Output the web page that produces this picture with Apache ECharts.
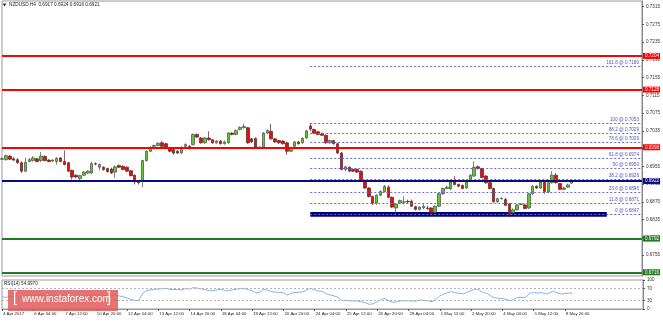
<!DOCTYPE html>
<html><head><meta charset="utf-8">
<script src="https://cdn.jsdelivr.net/npm/echarts@6/dist/echarts.min.js"></script>
<style>html,body{margin:0;padding:0;background:#fff;overflow:hidden}#c{width:663px;height:322px}</style>
</head><body><div id="c"></div>
<script>
// ---------- data ----------
const symbolTitle = 'NZDUSD,H4  0.6917 0.6924 0.6916 0.6921';
const rsiTitle = 'RSI(14) 54.9970';
const watermarkText = 'www.instaforex.com';
const tickLabels = ['4 Apr 2017','6 Apr 04:00','7 Apr 12:00','10 Apr 20:00','12 Apr 04:00','13 Apr 12:00','14 Apr 20:00','18 Apr 04:00','19 Apr 12:00','20 Apr 20:00','24 Apr 04:00','25 Apr 12:00','26 Apr 20:00','28 Apr 04:00','1 May 12:00','2 May 20:00','4 May 04:00','5 May 12:00','8 May 20:00'];
const barsPerLabel = 8;
const slotCount = 165;
// [open, high, low, close]
const ohlc = [
[0.6971,0.6975,0.6969,0.6972],[0.6970,0.6982,0.6968,0.6979],[0.6978,0.6980,0.6969,0.6971],[0.6972,0.6976,0.6967,0.6969],
[0.6970,0.6974,0.6961,0.6963],[0.6963,0.6966,0.6940,0.6944],[0.6944,0.6974,0.6942,0.6964],[0.6966,0.6974,0.6964,0.6970],
[0.6968,0.6978,0.6966,0.6974],[0.6972,0.6974,0.6964,0.6966],[0.6968,0.6987,0.6965,0.6978],[0.6977,0.6980,0.6966,0.6968],
[0.6969,0.6971,0.6964,0.6966],[0.6967,0.6971,0.6965,0.6969],[0.6966,0.6976,0.6959,0.6973],[0.6974,0.6976,0.6964,0.6966],
[0.6966,0.6991,0.6957,0.6959],[0.6963,0.6965,0.6942,0.6944],[0.6946,0.6948,0.6925,0.6931],[0.6935,0.6937,0.6929,0.6931],
[0.6927,0.6936,0.6919,0.6934],[0.6935,0.6944,0.6933,0.6942],[0.6940,0.6946,0.6938,0.6944],[0.6940,0.6965,0.6938,0.6961],
[0.6961,0.6964,0.6957,0.6960],[0.6953,0.6961,0.6946,0.6959],[0.6953,0.6955,0.6945,0.6948],[0.6950,0.6952,0.6941,0.6943],
[0.6949,0.6952,0.6938,0.6940],[0.6942,0.6957,0.6929,0.6954],[0.6957,0.6959,0.6951,0.6953],[0.6955,0.6957,0.6946,0.6948],
[0.6953,0.6955,0.6942,0.6944],[0.6945,0.6947,0.6932,0.6934],[0.6935,0.6937,0.6914,0.6920],[0.6921,0.6923,0.6914,0.6918],
[0.6921,0.6970,0.6908,0.6968],[0.6968,0.6991,0.6966,0.6989],[0.6989,0.7000,0.6987,0.6998],[0.7000,0.7004,0.6998,0.7002],
[0.7002,0.7009,0.7000,0.7007],[0.7008,0.7012,0.6998,0.7000],[0.7006,0.7008,0.6996,0.6998],[0.6997,0.6999,0.6987,0.6989],
[0.6993,0.6995,0.6981,0.6985],[0.6989,0.6991,0.6983,0.6985],[0.6985,0.7000,0.6983,0.6998],[0.7000,0.7007,0.6998,0.7004],
[0.7000,0.7003,0.6993,0.6995],[0.7004,0.7029,0.7002,0.7027],[0.7027,0.7029,0.7019,0.7021],[0.7019,0.7021,0.7006,0.7008],
[0.7008,0.7021,0.7006,0.7019],[0.7019,0.7034,0.7013,0.7015],[0.7015,0.7017,0.7006,0.7008],[0.7008,0.7014,0.7006,0.7012],
[0.7012,0.7014,0.7004,0.7006],[0.7006,0.7013,0.7004,0.7010],[0.7008,0.7032,0.7006,0.7030],[0.7030,0.7032,0.7025,0.7027],
[0.7027,0.7038,0.7025,0.7036],[0.7038,0.7045,0.7036,0.7043],[0.7042,0.7051,0.7040,0.7045],[0.7042,0.7044,0.7006,0.7008],
[0.7017,0.7019,0.7008,0.7010],[0.7018,0.7020,0.6996,0.6998],[0.6998,0.7000,0.6994,0.6997],[0.6998,0.7032,0.6996,0.7030],
[0.7030,0.7038,0.7028,0.7036],[0.7034,0.7051,0.7015,0.7017],[0.7017,0.7019,0.7008,0.7010],[0.7013,0.7015,0.7006,0.7008],
[0.7012,0.7014,0.7004,0.7006],[0.7008,0.7010,0.6981,0.6989],[0.6989,0.6999,0.6987,0.6997],[0.7000,0.7012,0.6998,0.7010],
[0.7010,0.7012,0.7004,0.7006],[0.7008,0.7020,0.7006,0.7018],[0.7019,0.7037,0.7017,0.7035],[0.7046,0.7053,0.7034,0.7039],
[0.7038,0.7040,0.7028,0.7030],[0.7033,0.7035,0.7025,0.7027],[0.7028,0.7031,0.7023,0.7025],[0.7025,0.7027,0.7006,0.7008],
[0.7008,0.7015,0.7006,0.7013],[0.7013,0.7015,0.7004,0.7006],[0.7006,0.7008,0.6983,0.6985],[0.6985,0.6987,0.6946,0.6948],
[0.6948,0.6956,0.6944,0.6954],[0.6953,0.6955,0.6942,0.6944],[0.6948,0.6950,0.6942,0.6944],[0.6948,0.6950,0.6940,0.6942],
[0.6944,0.6946,0.6919,0.6921],[0.6923,0.6925,0.6904,0.6906],[0.6906,0.6908,0.6885,0.6887],[0.6887,0.6889,0.6868,0.6872],
[0.6872,0.6892,0.6868,0.6890],[0.6890,0.6901,0.6888,0.6898],[0.6898,0.6913,0.6896,0.6910],[0.6908,0.6912,0.6883,0.6885],
[0.6885,0.6887,0.6861,0.6863],[0.6861,0.6872,0.6847,0.6870],[0.6872,0.6880,0.6870,0.6878],[0.6874,0.6887,0.6869,0.6875],
[0.6876,0.6880,0.6872,0.6875],[0.6876,0.6880,0.6863,0.6865],[0.6864,0.6866,0.6855,0.6858],[0.6858,0.6865,0.6855,0.6863],
[0.6861,0.6872,0.6858,0.6865],[0.6861,0.6866,0.6857,0.6860],[0.6861,0.6863,0.6849,0.6851],[0.6851,0.6867,0.6849,0.6865],
[0.6865,0.6895,0.6863,0.6893],[0.6893,0.6907,0.6891,0.6905],[0.6905,0.6911,0.6903,0.6908],[0.6904,0.6922,0.6902,0.6920],
[0.6920,0.6933,0.6912,0.6914],[0.6914,0.6916,0.6908,0.6910],[0.6912,0.6914,0.6903,0.6905],[0.6906,0.6922,0.6904,0.6920],
[0.6923,0.6937,0.6921,0.6935],[0.6933,0.6966,0.6931,0.6953],[0.6954,0.6957,0.6948,0.6950],[0.6950,0.6952,0.6928,0.6930],
[0.6933,0.6935,0.6916,0.6918],[0.6918,0.6920,0.6903,0.6905],[0.6905,0.6907,0.6873,0.6875],[0.6875,0.6884,0.6873,0.6882],
[0.6882,0.6885,0.6880,0.6883],[0.6880,0.6884,0.6865,0.6867],[0.6870,0.6872,0.6840,0.6846],[0.6850,0.6860,0.6848,0.6857],
[0.6857,0.6870,0.6855,0.6868],[0.6869,0.6872,0.6867,0.6870],[0.6868,0.6870,0.6858,0.6860],[0.6861,0.6895,0.6859,0.6893],
[0.6893,0.6913,0.6891,0.6910],[0.6910,0.6912,0.6904,0.6906],[0.6906,0.6922,0.6904,0.6920],[0.6919,0.6921,0.6893,0.6898],
[0.6897,0.6920,0.6895,0.6918],[0.6918,0.6944,0.6916,0.6935],[0.6935,0.6940,0.6916,0.6918],[0.6916,0.6918,0.6901,0.6903],
[0.6903,0.6909,0.6901,0.6906],[0.6908,0.6916,0.6906,0.6913],[0.6917,0.6924,0.6916,0.6921]
];
const rsi = [42,40,43,44,46,38,46,47,48,46,49,47,46,47,48,46,45,40,36,38,42,44,46,50,49,48,47,46,46,48,
45,42,38,33,29,30,54,63,66,68,69,70,71,68,67,67,66,70,69,74,72,69,67,63,64,66,68,64,62,66,
68,71,70,67,63,55,58,68,64,60,58,57,56,48,54,57,58,59,66,71,66,62,60,52,48,45,40,29,30,28,
28,27,25,21,16,18,25,33,36,28,23,25,28,28,29,27,28,31,30,28,25,33,45,52,56,60,56,54,52,58,
63,69,66,58,54,46,39,37,36,33,29,33,40,40,40,54,57,55,57,52,55,62,56,52,53,55,55.00];
const priceTicks = [0.6755,0.6795,0.6835,0.6875,0.6915,0.6955,0.6995,0.7035,0.7075,0.7115,0.7155,0.7195,0.7235,0.7275,0.7315];
const rsiTicks = [0,30,70,100];
const rsiLevels = [70,30];
const resistanceLevels = [0.7204,0.7128,0.6998];
const pivotLevels = [0.6922];
const supportLevels = [0.6792,0.6716];
const fibRatios = ['161.8','100','88.2','78.6','61.8','50','38.2','23.6','11.8','0'];
const fibPrices = [0.7180,0.7053,0.7029,0.7009,0.6974,0.6950,0.6926,0.6896,0.6871,0.6847];
const fibStartBar = 79;
const zoneBars = [79,155];
const zonePrices = [0.6841,0.6852];

// ---------- chart ----------
const FONT = 'Liberation Sans';
const cats = Array.from({length: slotCount}, (_, i) => String(i));
const isLabelBar = i => i % barsPerLabel === 0 && i / barsPerLabel < tickLabels.length;

function levelLine(v, color) {
  return [
    {coord: [0, v],
     lineStyle: {color: color, width: 2, type: 'solid'},
     label: {show: true, position: 'end', formatter: v.toFixed(4), backgroundColor: color,
       color: '#fff', padding: [1, 1, 0, 2], fontSize: 4.6, fontFamily: FONT, distance: 1}},
    {coord: [slotCount - 1, v]}
  ];
}
const levelData = [
  ...resistanceLevels.map(v => levelLine(v, '#ff0000')),
  ...pivotLevels.map(v => levelLine(v, '#0a0a82')),
  ...supportLevels.map(v => levelLine(v, '#1e7b1e'))
];
const fibData = fibPrices.map((p, k) => [
  {coord: [fibStartBar, p],
   lineStyle: {color: '#6a6ad2', width: 1, type: [2, 2]},
   label: {show: true, position: 'insideEndTop', formatter: fibRatios[k] + ' @ ' + p.toFixed(4),
     color: '#5252c0', fontSize: 4.6, fontFamily: FONT, distance: [3, 1]}},
  {coord: [slotCount - 1, p]}
]);

const chart = echarts.init(document.getElementById('c'));
chart.setOption({
  animation: false,
  backgroundColor: '#ffffff',
  grid: [
    {left: 2, right: 20, top: 1, height: 275, show: true, borderColor: '#9a9a9a', borderWidth: 1},
    {left: 2, right: 20, top: 280, height: 29, show: true, borderColor: '#9a9a9a', borderWidth: 1}
  ],
  xAxis: [
    {type: 'category', gridIndex: 0, data: cats, boundaryGap: false,
     axisLine: {show: false}, axisTick: {show: false}, axisLabel: {show: false}, splitLine: {show: false}},
    {type: 'category', gridIndex: 1, data: cats, boundaryGap: false,
     axisLine: {show: true, lineStyle: {color: '#9a9a9a'}},
     axisTick: {show: true, interval: i => isLabelBar(i), length: 2, lineStyle: {color: '#555'}},
     axisLabel: {show: true, interval: i => isLabelBar(i), formatter: (v, i) => tickLabels[i / barsPerLabel],
       align: 'left', fontSize: 4.3, fontFamily: FONT, color: '#222', margin: 3, padding: [0, 0, 0, 1]},
     splitLine: {show: false}}
  ],
  yAxis: [
    {type: 'value', gridIndex: 0, position: 'right', min: 0.67076, max: 0.73279,
     axisLine: {show: true, lineStyle: {color: '#888'}},
     axisTick: {show: true, customValues: priceTicks, length: 2, lineStyle: {color: '#555'}},
     axisLabel: {show: true, customValues: priceTicks, formatter: v => v.toFixed(4),
       fontSize: 4.6, fontFamily: FONT, color: '#333', margin: 4},
     splitLine: {show: false}},
    {type: 'value', gridIndex: 1, position: 'right', min: 0, max: 100,
     axisLine: {show: true, lineStyle: {color: '#888'}},
     axisTick: {show: true, customValues: rsiTicks, length: 2, lineStyle: {color: '#555'}},
     axisLabel: {show: true, customValues: rsiTicks, fontSize: 4.6, fontFamily: FONT, color: '#333', margin: 4},
     splitLine: {show: false}}
  ],
  series: [
    {type: 'candlestick', xAxisIndex: 0, yAxisIndex: 0, barWidth: 3,
     data: ohlc.map(r => [r[0], r[3], r[2], r[1]]),
     itemStyle: {color: '#62c72f', color0: '#e01010', borderColor: '#4a4a4a', borderColor0: '#5a2020', borderWidth: 0.7},
     markArea: {silent: true, data: [[
       {coord: [zoneBars[0], zonePrices[1]], itemStyle: {color: '#00007a'}},
       {coord: [zoneBars[1], zonePrices[0]]}]]},
     markLine: {silent: true, symbol: 'none', animation: false, data: [...fibData, ...levelData]}
    },
    {type: 'line', xAxisIndex: 1, yAxisIndex: 1, data: rsi, symbol: 'none', showSymbol: false,
     lineStyle: {color: '#7ab8f0', width: 1},
     markLine: {silent: true, symbol: 'none', label: {show: false},
       lineStyle: {color: '#b4b4b4', width: 1, type: [2, 2]},
       data: rsiLevels.map(v => [{coord: [0, v]}, {coord: [slotCount - 1, v]}])}}
  ],
  graphic: [
    {type: 'polygon', shape: {points: [[2.5, 3.5], [6.5, 3.5], [4.5, 6.5]]}, style: {fill: '#333'}},
    {type: 'text', left: 9, top: 2.4, style: {text: symbolTitle, fontSize: 4.7, fontFamily: FONT, fill: '#222'}},
    {type: 'text', left: 4, top: 281, style: {text: rsiTitle, fontSize: 4.6, fontFamily: FONT, fill: '#222'}},
    {type: 'rect', shape: {x: 8, y: 290, width: 110, height: 21}, style: {fill: 'rgba(225,90,90,0.85)'}, z: 50},
    {type: 'text', left: 13, top: 291.5, z: 51, style: {text: '[', fontSize: 14, fontFamily: FONT, fill: '#fff'}},
    {type: 'text', left: 22, top: 294, z: 51, style: {text: watermarkText, fontSize: 10, fontFamily: FONT, fill: '#fff'}},
    {type: 'text', left: 107, top: 291.5, z: 51, style: {text: ']', fontSize: 14, fontFamily: FONT, fill: '#fff'}}
  ]
});
</script></body></html>
